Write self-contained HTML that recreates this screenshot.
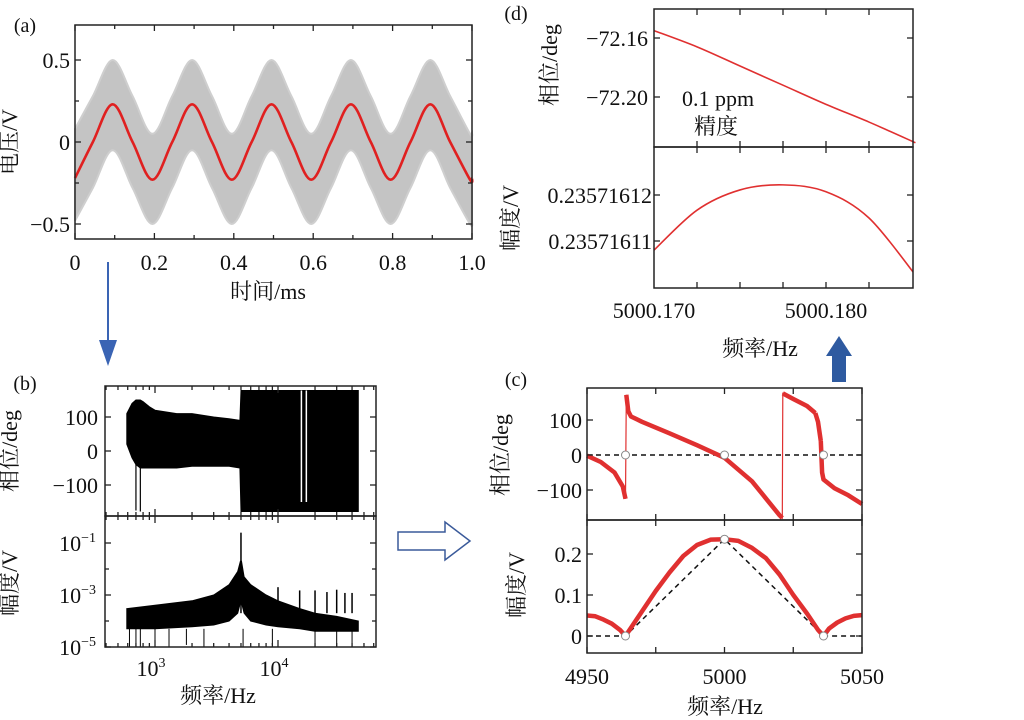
<!DOCTYPE html>
<html><head><meta charset="utf-8">
<style>
html,body{margin:0;padding:0;background:#fff;width:1024px;height:720px;overflow:hidden}
svg{display:block}
text{font-family:"Liberation Serif","Noto Serif CJK SC","Noto Sans CJK SC",serif;fill:#111}
</style></head>
<body>
<svg id="fig" width="1024" height="720" viewBox="0 0 1024 720" xmlns="http://www.w3.org/2000/svg"></svg>
<script>
// ---------- data ----------
const aTimes = [0,0.045,0.095,0.145,0.195,0.245,0.295,0.345,0.395,0.445,0.495,0.545,0.595,0.645,0.695,0.745,0.795,0.845,0.895,0.945,0.995,1.0];
const aRed   = [-0.22,0,0.23,0,-0.23,0,0.23,0,-0.23,0,0.23,0,-0.23,0,0.23,0,-0.23,0,0.23,0,-0.23,-0.22];
const aBandHi= [0.08,0.28,0.50,0.28,0.05,0.28,0.50,0.28,0.05,0.28,0.50,0.28,0.05,0.28,0.50,0.28,0.05,0.28,0.50,0.28,0.05,0.06];
const aBandLo= [-0.48,-0.28,-0.05,-0.28,-0.50,-0.28,-0.05,-0.28,-0.50,-0.28,-0.05,-0.28,-0.50,-0.28,-0.05,-0.28,-0.50,-0.28,-0.05,-0.28,-0.50,-0.48];
const aXTicks = [0,0.2,0.4,0.6,0.8,1.0];
const aXLabels = ["0","0.2","0.4","0.6","0.8","1.0"];
const aYTicks = [0.5,0,-0.5];
const aYLabels = ["0.5","0","\u22120.5"];
// (b)
const bFreq    = [590,650,700,760,800,900,1000,1500,2000,3000,4000,4900,5000,8000,12000,16000,20000,30000,45000];
const bPhHi    = [110,140,150,150,145,130,120,110,110,100,95,90,178,178,178,178,178,178,178];
const bPhLo    = [20,-20,-40,-50,-50,-50,-50,-50,-45,-45,-45,-50,-178,-178,-178,-178,-178,-178,-178];
const bAmpF    = [590,1000,2000,3000,4000,4700,4950,5050,5300,6000,8000,10000,15000,20000,30000,45000];
const bAmpHi   = [3e-4,4e-4,6e-4,1e-3,2.5e-3,8e-3,2e-2,2e-2,5e-3,2.5e-3,1e-3,6e-4,3e-4,2e-4,1.5e-4,1e-4];
const bAmpLo   = [5e-5,5e-5,6e-5,7e-5,1e-4,2e-4,5e-4,5e-4,2e-4,1e-4,7e-5,6e-5,5e-5,4e-5,4e-5,4e-5];
const bSpikeF  = [5000,10000,15000,20000,25000,30000,35000,40000];
const bSpikeA  = [0.25,2e-3,1.5e-3,1.5e-3,1.3e-3,1.6e-3,1.2e-3,1.2e-3];
const bDipF    = [620,700,760,1000,1300,1800,2500,5200,9000,20000,30000,40000];
const bDipA    = [1e-5,1e-5,1e-5,1.2e-5,1e-5,1.2e-5,1e-5,1e-5,1.2e-5,1e-5,1e-5,1e-5];
const bPhDipF  = [700,760];
const bPhDipV  = [-175,-178];
const bPhGapF  = [15500,17000];
// (c)
const cFreq = [4950,4955,4960,4963,4964,4964.3,4965,4966,4970,4980,4990,5000,5010,5020,5021,5021.2,5025,5030,5033,5034,5035,5035.5,5036,5040,5045,5050];
const cPh   = [-2,-20,-50,-90,-125,172,125,110,95,62,28,-8,-75,-172,-180,176,160,140,120,95,40,-50,-70,-95,-115,-140];
const cAmpF = [4950,4953,4956,4959,4962,4964,4966,4970,4975,4980,4985,4990,4995,5000,5005,5010,5015,5020,5025,5030,5034,5036,5038,5041,5044,5047,5050];
const cAmp  = [0.05,0.048,0.04,0.03,0.015,0,0.02,0.06,0.11,0.155,0.195,0.222,0.235,0.236,0.232,0.215,0.19,0.15,0.1,0.055,0.015,0,0.018,0.033,0.043,0.049,0.051];
const cRefF = [4964,5000,5036];
const cRefPh= [0,0,0];
const cRefA = [0,0.236,0];
// (d)
const dFreq = [5000.170,5000.1725,5000.175,5000.1775,5000.180,5000.1825,5000.1852];
const dPh   = [-72.155,-72.166,-72.179,-72.192,-72.205,-72.217,-72.231];
const dAmp  = [0.2357161080,0.2357161167,0.2357161211,0.2357161222,0.2357161207,0.2357161150,0.2357161026];

// ---------- scales ----------
const xa=t=>75+397*t, ya=v=>142-164*v;
const L=Math.log10;
const xb=f=>155+123*(L(f)-3), ybp=p=>451-0.34*p, yba=a=>543-26*(L(a)+1);
const xc=f=>587+2.75*(f-4950), ycp=p=>455-0.35*p, yca=a=>636-410*a;
const xd=f=>654+17200*(f-5000.170), ydp=p=>38+1475*(-72.16-p), yda=a=>195-4.6e9*(a-0.23571612);

const NS="http://www.w3.org/2000/svg", svg=document.getElementById('fig');
function mk(tag,attrs,parent){const e=document.createElementNS(NS,tag);for(const k in attrs)e.setAttribute(k,attrs[k]);(parent||svg).appendChild(e);return e;}
function txt(x,y,s,size,anchor,parent){const e=mk('text',{x:x,y:y,'font-size':size,'text-anchor':anchor||'middle'},parent);e.textContent=s;return e;}
function pts(xs,ys,fx,fy){return xs.map((v,i)=>fx(v).toFixed(1)+','+fy(ys[i]).toFixed(1)).join(' ');}
function smooth(xs,ys,fx,fy){const P=xs.map((v,i)=>[fx(v),fy(ys[i])]);let d='M'+P[0][0]+','+P[0][1];for(let i=0;i<P.length-1;i++){const p0=P[Math.max(0,i-1)],p1=P[i],p2=P[i+1],p3=P[Math.min(P.length-1,i+2)];d+=' C'+(p1[0]+(p2[0]-p0[0])/6)+','+(p1[1]+(p2[1]-p0[1])/6)+' '+(p2[0]-(p3[0]-p1[0])/6)+','+(p2[1]-(p3[1]-p1[1])/6)+' '+p2[0]+','+p2[1];}return d;}
function box(x,y,w,h,name){const r=mk('rect',{x:x,y:y,width:w,height:h,fill:'none',stroke:'#222','stroke-width':1.5});}
function tick(x1,y1,x2,y2){mk('line',{x1:x1,y1:y1,x2:x2,y2:y2,stroke:'#222','stroke-width':1.3});}
function vlabel(x,y,s,size,name){const e=mk('text',{x:x,y:y,'font-size':size,'text-anchor':'middle',transform:'rotate(-90 '+x+' '+y+')'});e.textContent=s;return e;}
const FS=22;
const defs=mk('defs',{});
const cp=mk('clipPath',{id:'clipd'},defs);mk('rect',{x:654,y:147,width:259,height:141},cp);

// ===== (a) =====
let g=mk('g',{});
let e=txt(25,32,'(a)',20,'middle',g);
e=mk('path',{d:smooth(aTimes,aBandHi,xa,ya)+' L'+smooth(aTimes.slice().reverse(),aBandLo.slice().reverse(),xa,ya).slice(1)+' Z',fill:'#c4c4c4',stroke:'#cfcfcf','stroke-width':2},g);

e=mk('path',{d:smooth(aTimes,aRed,xa,ya),fill:'none',stroke:'#e02020','stroke-width':2.6},g);

box(75,25,397,214,'panel-a-frame');
aXTicks.forEach((t,i)=>{tick(xa(t),239,xa(t),233);tick(xa(t),25,xa(t),31);const l=txt(xa(t),270,aXLabels[i],FS);});
[0.1,0.3,0.5,0.7,0.9].forEach(t=>{tick(xa(t),239,xa(t),235);tick(xa(t),25,xa(t),29);});
aYTicks.forEach((v,i)=>{tick(75,ya(v),81,ya(v));tick(472,ya(v),466,ya(v));const l=txt(70,ya(v)+8,aYLabels[i],FS,'end');});
[0.25,-0.25].forEach(v=>{tick(75,ya(v),79,ya(v));tick(472,ya(v),468,ya(v));});
e=txt(268,299,'时间/ms',FS);
vlabel(17,142,'电压/V',FS,'y-axis-title-a');

e=mk('g',{});
mk('line',{x1:108,y1:262,x2:108,y2:345,stroke:'#3a64b4','stroke-width':2},e);
mk('polygon',{points:'99,340 117,340 108,366',fill:'#3a64b4'},e);

// ===== (b) =====
g=mk('g',{});
e=txt(25,390,'(b)',20,'middle',g);
e=mk('polygon',{points:pts(bFreq,bPhHi,xb,ybp)+' '+pts(bFreq.slice().reverse(),bPhLo.slice().reverse(),xb,ybp),fill:'#000',stroke:'#000','stroke-width':1},g);

bPhDipF.forEach((f,i)=>{const l=mk('line',{x1:xb(f),y1:ybp(0),x2:xb(f),y2:ybp(bPhDipV[i]),stroke:'#000','stroke-width':1.2},g);});
bPhGapF.forEach(f=>{const l=mk('line',{x1:xb(f),y1:ybp(178),x2:xb(f),y2:ybp(-150),stroke:'#fff','stroke-width':1.5},g);});
e=mk('polygon',{points:pts(bAmpF,bAmpHi,xb,yba)+' '+pts(bAmpF.slice().reverse(),bAmpLo.slice().reverse(),xb,yba),fill:'#000',stroke:'#000','stroke-width':1},g);

bSpikeF.forEach((f,i)=>{const l=mk('line',{x1:xb(f),y1:yba(2e-4),x2:xb(f),y2:yba(bSpikeA[i]),stroke:'#000','stroke-width':1.5},g);});
bDipF.forEach((f,i)=>{const l=mk('line',{x1:xb(f),y1:yba(5e-5),x2:xb(f),y2:yba(bDipA[i]),stroke:'#000','stroke-width':1},g);});
box(105,386,271,130,'phase-frame-b');box(105,516,271,131,'amplitude-frame-b');
[[100,'100'],[0,'0'],[-100,'\u2212100']].forEach(([v,s])=>{tick(105,ybp(v),111,ybp(v));tick(376,ybp(v),370,ybp(v));const l=txt(98,ybp(v)+8,s,FS,'end');});
[[-1,'−1'],[-3,'−3'],[-5,'−5']].forEach(([p,s])=>{const y=yba(Math.pow(10,p));tick(105,y,111,y);tick(376,y,370,y);const l=mk('text',{x:96,y:y+8,'font-size':FS,'text-anchor':'end'});l.innerHTML='10<tspan dy="-9" font-size="14">'+s+'</tspan>';});
[-2,-4].forEach(p=>{const y=yba(Math.pow(10,p));tick(105,y,109,y);tick(376,y,372,y);});
for(let d=2;d<=4;d++)for(let m=1;m<10;m++){const f=m*Math.pow(10,d);const x=xb(f);if(x<106||x>375)continue;const big=m===1;[386,516,647].forEach(y=>{tick(x,y,x,y+(y===386?(big?7:4):-(big?7:4)));if(y===516)tick(x,y,x,y+(big?7:4));});}
[[3,'3'],[4,'4']].forEach(([p,s])=>{const l=mk('text',{x:xb(Math.pow(10,p))-4,y:676,'font-size':FS,'text-anchor':'middle'});l.innerHTML='10<tspan dy="-9" font-size="14">'+s+'</tspan>';});
e=txt(218,703,'频率/Hz',FS);
vlabel(17,451,'相位/deg',FS,'y-axis-title-b-phase');
vlabel(17,583,'幅度/V',FS,'y-axis-title-b-amplitude');

e=mk('polygon',{points:'398,532 445,532 445,522 470,541 445,560 445,550 398,550',fill:'#fff',stroke:'#3a5a9a','stroke-width':1.5});


// ===== (c) =====
g=mk('g',{});
e=txt(516,386,'(c)',20,'middle',g);
e=mk('line',{x1:587,y1:ycp(0),x2:862,y2:ycp(0),stroke:'#111','stroke-width':1.5,'stroke-dasharray':'5,4'},g);
e=mk('polyline',{points:pts(cFreq,cPh,xc,ycp),fill:'none',stroke:'#e03030','stroke-width':1.2},g);
const thick=[[0,4],[5,14],[15,18],[18,20],[20,25]];
thick.forEach(([s,t])=>{const l=mk('polyline',{points:pts(cFreq.slice(s,t+1),cPh.slice(s,t+1),xc,ycp),fill:'none',stroke:'#e03030','stroke-width':4.5,'stroke-linejoin':'round'},g);});
cRefF.forEach((f,i)=>{const c=mk('circle',{cx:xc(f),cy:ycp(cRefPh[i]),r:4,fill:'#fff',stroke:'#888','stroke-width':1},g);});
e=mk('polyline',{points:pts([4950].concat(cRefF,[5050]),[0].concat(cRefA,[0]),xc,yca),fill:'none',stroke:'#111','stroke-width':1.5,'stroke-dasharray':'5,4'},g);
e=mk('polyline',{points:pts(cAmpF,cAmp,xc,yca),fill:'none',stroke:'#e03030','stroke-width':4.5,'stroke-linejoin':'round'},g);
cRefF.forEach((f,i)=>{const c=mk('circle',{cx:xc(f),cy:yca(cRefA[i]),r:4,fill:'#fff',stroke:'#888','stroke-width':1},g);});
box(587,388,275,132,'phase-frame-c');box(587,520,275,133,'amplitude-frame-c');
[[100,'100'],[0,'0'],[-100,'\u2212100']].forEach(([v,s])=>{tick(587,ycp(v),593,ycp(v));tick(862,ycp(v),856,ycp(v));const l=txt(582,ycp(v)+8,s,FS,'end');});
[[0.2,'0.2'],[0.1,'0.1'],[0,'0']].forEach(([v,s])=>{tick(587,yca(v),593,yca(v));tick(862,yca(v),856,yca(v));const l=txt(582,yca(v)+8,s,FS,'end');});
[4950,4975,5000,5025,5050].forEach(f=>{const x=xc(f);[388,520].forEach(y=>tick(x,y,x,y+6));[520,653].forEach(y=>tick(x,y,x,y-6));});
[4950,5000,5050].forEach(f=>{const l=txt(xc(f),684,String(f),FS);});
e=txt(725,714,'频率/Hz',FS);
vlabel(508,455,'相位/deg',FS,'y-axis-title-c-phase');
vlabel(524,585,'幅度/V',FS,'y-axis-title-c-amplitude');

e=mk('polygon',{points:'832,382 832,356 826,356 839,336 852,356 846,356 846,382',fill:'#2e5aa0'});


// ===== (d) =====
g=mk('g',{});
e=txt(516,20,'(d)',20,'middle',g);
e=mk('path',{d:smooth(dFreq,dPh,xd,ydp),fill:'none',stroke:'#e03030','stroke-width':1.6},g);
e=mk('path',{d:smooth(dFreq,dAmp,xd,yda),fill:'none',stroke:'#e03030','stroke-width':1.6,'clip-path':'url(#clipd)'},g);
box(654,9,259,138,'phase-frame-d');box(654,147,259,141,'amplitude-frame-d');
[[-72.16,'\u221272.16'],[-72.20,'\u221272.20']].forEach(([v,s])=>{tick(654,ydp(v),660,ydp(v));tick(913,ydp(v),907,ydp(v));const l=txt(648,ydp(v)+8,s,FS,'end');});
[[0.23571612,'0.23571612'],[0.23571611,'0.23571611']].forEach(([v,s])=>{tick(654,yda(v),660,yda(v));tick(913,yda(v),907,yda(v));const l=txt(652,yda(v)+8,s,FS,'end');});
[5000.1725,5000.175,5000.1775,5000.180,5000.1825].forEach(f=>{const x=xd(f);[9,147].forEach(y=>tick(x,y,x,y+6));[147,288].forEach(y=>tick(x,y,x,y-6));});
[[5000.170,'5000.170'],[5000.180,'5000.180']].forEach(([f,s])=>{const l=txt(xd(f),318,s,FS);});
e=txt(760,356,'频率/Hz',FS);
e=txt(718,106,'0.1 ppm',FS);
e=txt(716,134,'精度',FS);
vlabel(557,65,'相位/deg',FS,'y-axis-title-d-phase');
vlabel(518,218,'幅度/V',FS,'y-axis-title-d-amplitude');
</script>
</body></html>
